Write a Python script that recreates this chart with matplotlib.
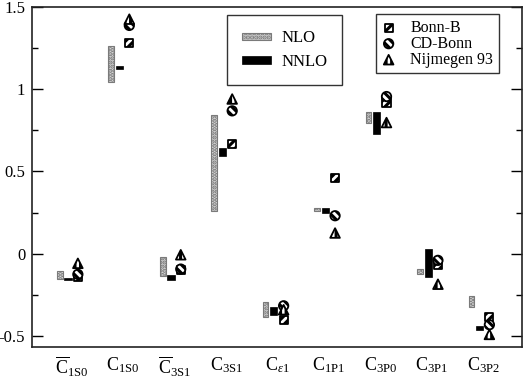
import matplotlib
matplotlib.use("Agg")
import matplotlib.pyplot as plt
from matplotlib.patches import Patch, Rectangle
from matplotlib.legend_handler import HandlerPatch
from matplotlib.ticker import MultipleLocator, FormatStrFormatter
import numpy as np

plt.rcParams['font.family'] = ['Liberation Serif', 'DejaVu Serif']
plt.rcParams['mathtext.fontset'] = 'custom'
plt.rcParams['mathtext.rm'] = 'Liberation Serif'
plt.rcParams['mathtext.it'] = 'Liberation Serif:italic'
plt.rcParams['axes.unicode_minus'] = False
plt.rcParams['hatch.linewidth'] = 2.2

##############################################################################
# data
labels = [r'$\overline{\mathrm{C}}_{\mathrm{1S0}}$', r'$\mathrm{C}_{\mathrm{1S0}}$',
          r'$\overline{\mathrm{C}}_{\mathrm{3S1}}$', r'$\mathrm{C}_{\mathrm{3S1}}$',
          r'$\mathrm{C}_{\varepsilon\mathrm{1}}$', r'$\mathrm{C}_{\mathrm{1P1}}$',
          r'$\mathrm{C}_{\mathrm{3P0}}$', r'$\mathrm{C}_{\mathrm{3P1}}$',
          r'$\mathrm{C}_{\mathrm{3P2}}$']

nlo_low = [-0.154, 1.046, -0.138, 0.257, -0.385, 0.262, 0.797, -0.125, -0.324]
nlo_high = [-0.105, 1.259, -0.022, 0.844, -0.296, 0.278, 0.860, -0.093, -0.255]
nnlo_low = [-0.162, 1.125, -0.158, 0.591, -0.370, 0.247, 0.729, -0.141, -0.466]
nnlo_high = [-0.150, 1.140, -0.132, 0.642, -0.324, 0.281, 0.860, 0.029, -0.437]

bonn_b = [-0.14, 1.279, -0.10, 0.665, -0.400, 0.460, 0.919, -0.070, -0.385]
cd_bonn = [-0.125, 1.387, -0.093, 0.868, -0.316, 0.231, 0.955, -0.040, -0.431]
nijmegen = [-0.058, 1.425, -0.006, 0.940, -0.340, 0.126, 0.797, -0.185, -0.490]

##############################################################################
x = np.arange(1, len(labels) + 1)

fig = plt.figure(figsize=(5.26, 3.79), dpi=100)
ax = fig.add_axes([0.061, 0.085, 0.931, 0.897])

nlo_style = dict(facecolor='#d4d4d4', edgecolor='#7a7a7a', hatch='....', linewidth=0.8)
nnlo_style = dict(facecolor='black', edgecolor='black', linewidth=0.5)

ax.bar(x - 0.16, np.subtract(nlo_high, nlo_low), bottom=nlo_low, width=0.11, **nlo_style)
ax.bar(x, np.subtract(nnlo_high, nnlo_low), bottom=nnlo_low, width=0.14, **nnlo_style)

mk = dict(facecolor='white', edgecolor='black', linewidths=1.3, zorder=3)
s_b = ax.scatter(x + 0.19, bonn_b, marker='s', s=34, hatch='////', **mk)
s_c = ax.scatter(x + 0.19, cd_bonn, marker='o', s=46, hatch='\\\\\\\\', **mk)
s_n = ax.scatter(x + 0.19, nijmegen, marker='^', s=48, hatch='|||', **mk)

ax.set_xlim(0.30, 9.82)
ax.set_ylim(-0.565, 1.5)
ax.yaxis.set_major_locator(MultipleLocator(0.5))
ax.yaxis.set_minor_locator(MultipleLocator(0.25))
ax.yaxis.set_major_formatter(FormatStrFormatter('%g'))
ax.tick_params(axis='y', which='both', direction='in', right=True, labelsize=12, pad=5)
ax.tick_params(axis='y', which='major', length=8, width=1)
ax.tick_params(axis='y', which='minor', length=4, width=1)
ax.set_xticks(x + 0.07)
ax.set_xticklabels(labels, fontsize=13)
ax.tick_params(axis='x', length=0, pad=6)
for sp in ax.spines.values():
    sp.set_linewidth(1.2)
    sp.set_color('#222222')


##############################################################################
def flat_patch(legend, orig_handle, xdescent, ydescent, width, height, fontsize):
    h = height * (0.55 if orig_handle.get_hatch() else 0.75)
    return Rectangle((-xdescent, -ydescent + (height - h) / 2), width, h)


handles1 = [Patch(**nlo_style), Patch(**nnlo_style)]
leg1 = ax.legend(handles1, ['NLO', 'NNLO'], loc='upper left',
                 bbox_to_anchor=(0.398, 0.975), fontsize=12, frameon=True,
                 fancybox=False, handlelength=1.75, handletextpad=0.6,
                 labelspacing=0.45, borderpad=0.9, borderaxespad=0,
                 handler_map={Patch: HandlerPatch(patch_func=flat_patch)})
leg1.get_frame().set_edgecolor('black')
leg1.get_frame().set_linewidth(1.0)
ax.add_artist(leg1)

leg2 = ax.legend([s_b, s_c, s_n], ['Bonn-B', 'CD-Bonn', 'Nijmegen 93'],
                 loc='upper left', bbox_to_anchor=(0.702, 0.978), fontsize=11.5,
                 frameon=True, fancybox=False, handlelength=0.9, handletextpad=0.9,
                 labelspacing=0.0, borderpad=0.35, borderaxespad=0, scatterpoints=1)
leg2.get_frame().set_edgecolor('black')
leg2.get_frame().set_linewidth(1.0)

fig.savefig('out.png', dpi=100)
